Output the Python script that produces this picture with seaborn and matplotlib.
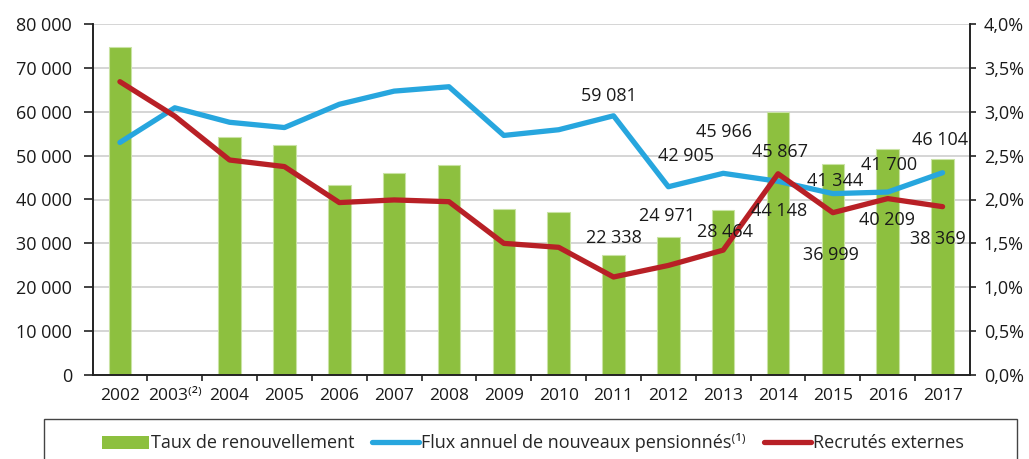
import numpy as np
import pandas as pd
import matplotlib
matplotlib.use("Agg")
import matplotlib.pyplot as plt
from matplotlib.patches import Patch, Rectangle
from matplotlib.lines import Line2D
from matplotlib.ticker import FuncFormatter, FixedLocator
import seaborn as sns

# --- data ---
years = ["2002", "2003⁽²⁾", "2004", "2005", "2006", "2007", "2008", "2009",
         "2010", "2011", "2012", "2013", "2014", "2015", "2016", "2017"]
taux_renouvellement = [3.74, np.nan, 2.71, 2.62, 2.17, 2.30, 2.39, 1.89,
                       1.86, 1.37, 1.57, 1.88, 3.00, 2.41, 2.58, 2.46]
flux_pensionnes = [53000, 60900, 57600, 56400, 61700, 64700, 65700, 54600,
                   55900, 59081, 42905, 45966, 44148, 41344, 41700, 46104]
recrutes_externes = [66850, 59000, 49000, 47500, 39300, 39900, 39500, 30000,
                     29100, 22338, 24971, 28464, 45867, 36999, 40209, 38369]

# labelled points: (year index, pixel offset x, pixel offset y)
flux_labels = [(9, -5, 20), (10, 18, 31), (11, 1, 41), (12, 1, -30),
               (13, 2, 13), (14, 1, 27), (15, -3, 33)]
recrutes_labels = [(9, 0, 39), (10, -1, 49), (11, 2, 18), (12, 2, 22),
                   (13, -2, -42), (14, -1, -21), (15, -5, -32)]

GREEN = "#8dc03f"
BLUE = "#27a6de"
RED = "#b82026"

sns.set_style("white")
plt.rcParams["font.family"] = ["Open Sans", "DejaVu Sans"]

df = pd.DataFrame({"annee": years, "taux": taux_renouvellement,
                   "flux": flux_pensionnes, "recrutes": recrutes_externes})
pos = np.arange(len(years))

fig = plt.figure(figsize=(10.29, 4.59), dpi=100)
ax2 = fig.add_axes([92.5 / 1029, 1 - 375 / 459, 877.5 / 1029, 351 / 459])
ax = ax2.twinx()
ax.set_zorder(ax2.get_zorder() + 1)
ax.patch.set_visible(False)

# bars (right axis, percent)
sns.barplot(data=df, x="annee", y="taux", order=years, color=GREEN,
            width=0.41, edgecolor="#c9e3a4", linewidth=0.8, saturation=1,
            ax=ax2)
ax2.set_axisbelow(True)
ax2.set_ylim(0, 4.0)
ax2.yaxis.set_major_locator(FixedLocator(np.arange(0, 4.01, 0.5)))
ax2.grid(axis="y", color="#d2d2d2", linewidth=1.3)
ax2.grid(axis="x", visible=False)

# lines (left axis)
sns.lineplot(x=pos, y=df["flux"], color=BLUE, linewidth=3.8, ax=ax,
             solid_capstyle="round")
sns.lineplot(x=pos, y=df["recrutes"], color=RED, linewidth=3.8, ax=ax,
             solid_capstyle="round")
ax.set_ylim(0, 80000)
ax.set_xlim(-0.5, len(years) - 0.5)
ax2.set_xlim(-0.5, len(years) - 0.5)
ax.yaxis.set_major_locator(FixedLocator(np.arange(0, 80001, 10000)))


def fmt_num(v):
    return f"{int(v):,}".replace(",", " ")


ax.yaxis.set_major_formatter(FuncFormatter(lambda v, p: fmt_num(v)))
ax2.yaxis.set_major_formatter(
    FuncFormatter(lambda v, p: f"{v:.1f}%".replace(".", ",")))

ax.yaxis.tick_left()
ax2.yaxis.tick_right()
ax.set_ylabel("")
ax2.set_ylabel("")
ax2.set_xlabel("")
ax.set_xlabel("")

for a in (ax, ax2):
    a.spines["top"].set_visible(False)
    for s in ("left", "right", "bottom"):
        a.spines[s].set_color("#222222")
        a.spines[s].set_linewidth(1.2)

ax.tick_params(axis="y", which="major", length=6.8, width=1.2, color="#222222",
               labelsize=13, pad=8, labelcolor="#1a1a1a", left=True, right=False)
ax2.tick_params(axis="y", which="major", length=4, width=1.2, color="#222222",
                labelsize=13, pad=6, labelcolor="#1a1a1a", right=True, left=False)
ax.tick_params(axis="x", which="both", bottom=False, labelbottom=False)

ax2.set_xticks(pos)
ax2.set_xticklabels(years, fontsize=12.5, color="#1a1a1a")
ax2.set_xticks(pos[:-1] + 0.5, minor=True)
ax2.tick_params(axis="x", which="major", length=0, pad=9)
ax2.tick_params(axis="x", which="minor", length=4, width=1.2, color="#222222",
                bottom=True)

# value labels
for i, dx, dy in flux_labels:
    ax.annotate(fmt_num(flux_pensionnes[i]), (pos[i], flux_pensionnes[i]),
                xytext=(dx, dy), textcoords="offset pixels", ha="center",
                va="center", fontsize=13, color="#1a1a1a")
for i, dx, dy in recrutes_labels:
    ax.annotate(fmt_num(recrutes_externes[i]), (pos[i], recrutes_externes[i]),
                xytext=(dx, dy), textcoords="offset pixels", ha="center",
                va="center", fontsize=13, color="#1a1a1a")

# legend in an open box at the bottom
fig.patches.append(Rectangle((44 / 1029, -0.2), 973 / 1029, 0.2 + 1 - 419 / 459,
                             transform=fig.transFigure, fill=False,
                             edgecolor="#444444", linewidth=1.0))
handles = [Patch(facecolor=GREEN, edgecolor="none"),
           Line2D([], [], color=BLUE, linewidth=3.8),
           Line2D([], [], color=RED, linewidth=3.8)]
labels = ["Taux de renouvellement",
          "Flux annuel de nouveaux pensionnés⁽¹⁾",
          "Recrutés externes"]
fig.legend(handles, labels, loc="center", bbox_to_anchor=(533 / 1029, 1 - 443 / 459),
           ncol=3, frameon=False, prop={"size": 13},
           handlelength=2.6, handletextpad=0.12, columnspacing=1.0)

fig.savefig("out.png", dpi=100)
